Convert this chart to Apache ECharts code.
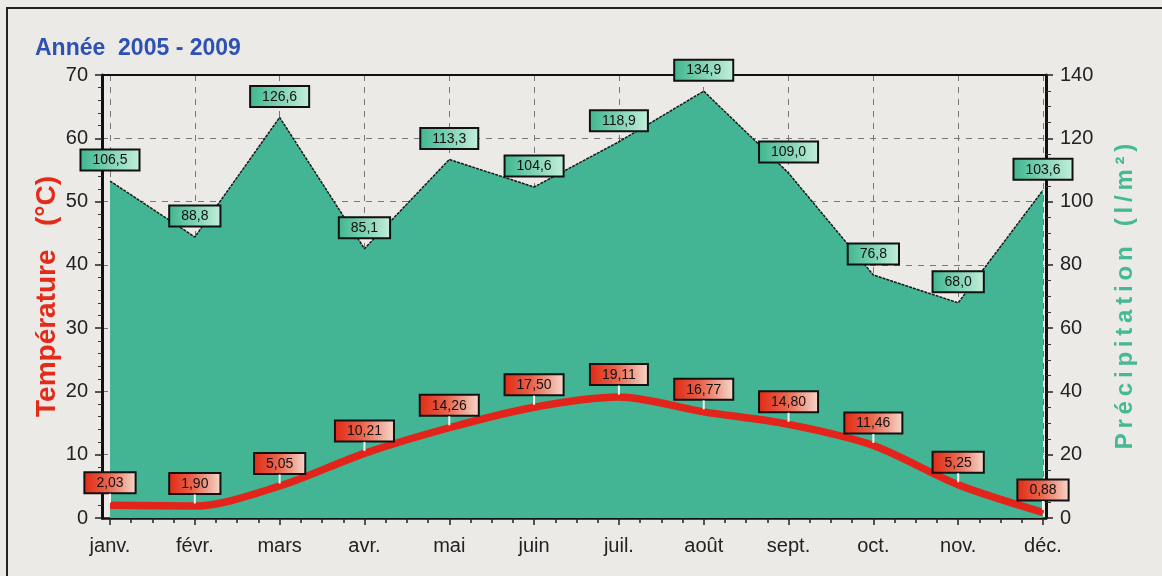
<!DOCTYPE html>
<html>
<head>
<meta charset="utf-8">
<script src="https://cdn.jsdelivr.net/npm/echarts@6/dist/echarts.min.js"></script>
<style>
html,body{margin:0;padding:0;background:#ebeae6;}
#c{width:1162px;height:576px;}
</style>
</head>
<body>
<div id="c"></div>
<script>
const months = ['janv.','févr.','mars','avr.','mai','juin','juil.','août','sept.','oct.','nov.','déc.'];
const temperature = [2.03,1.90,5.05,10.21,14.26,17.50,19.11,16.77,14.80,11.46,5.25,0.88];
const precipitation = [106.5,88.8,126.6,85.1,113.3,104.6,118.9,134.9,109.0,76.8,68.0,103.6];
const tempTicks = [0,10,20,30,40,50,60,70];
const precTicks = [0,20,40,60,80,100,120,140];

const chart = echarts.init(document.getElementById('c'));
const FONT = 'Liberation Sans, Arial, sans-serif';
const fmt = (v, d) => v.toFixed(d).replace('.', ',');
const spaced = s => s.split('').join('\u2009');

const tempBoxBg = new echarts.graphic.LinearGradient(0,0,1,0,[{offset:0,color:'#e02a14'},{offset:0.45,color:'#e9624a'},{offset:1,color:'#f6dacd'}]);
const precBoxBg = new echarts.graphic.LinearGradient(0,0,1,0,[{offset:0,color:'#3db68e'},{offset:1,color:'#c4efdb'}]);

const tickStyle = {color:'#222', width:1.5};

chart.setOption({
  backgroundColor: '#ebeae6',
  animation: false,
  title: {
    text: 'Année  2005 - 2009', left: 30, top: 32,
    textStyle: {color:'#2d52b4', fontSize:23, fontWeight:'bold', fontFamily: FONT}
  },
  grid: [
    {left: 110, right: 119, top: 75, bottom: 58},
    {left: 102, right: 116, top: 75, bottom: 58}
  ],
  xAxis: [{
    type: 'category', data: months, boundaryGap: false, gridIndex: 0,
    axisLine: {show: false},
    axisTick: {show: true, alignWithLabel: true, length: 7, lineStyle: tickStyle},
    axisLabel: {color:'#222', fontSize:20, margin:18, fontFamily: FONT},
    splitLine: {show: true, lineStyle:{color:'#777', type:[6,6], width:1}}
  },{
    type: 'value', min: 0, max: 11, interval: 1, gridIndex: 0, position: 'bottom',
    axisLine: {show:false}, axisLabel:{show:false}, axisTick:{show:false},
    minorTick: {show:true, splitNumber:4, length:5, lineStyle: tickStyle},
    splitLine: {show:false}
  },{
    type: 'value', min: 0, max: 1, gridIndex: 1, position: 'bottom',
    axisLine: {show:true, onZero:false, lineStyle:{color:'#111', width:2.5}},
    axisLabel:{show:false}, axisTick:{show:false}, splitLine:{show:false}
  },{
    type: 'value', min: 0, max: 1, gridIndex: 1, position: 'top',
    axisLine: {show:true, onZero:false, lineStyle:{color:'#111', width:2}},
    axisLabel:{show:false}, axisTick:{show:false}, splitLine:{show:false}
  }],
  yAxis: [{
    type: 'value', min: 0, max: 70, gridIndex: 0, show: false
  },{
    type: 'value', min: 0, max: 140, gridIndex: 0, show: false
  },{
    type: 'value', min: 0, max: 70, interval: 10, gridIndex: 1, position: 'left',
    name: 'Température   (°C)', nameLocation: 'middle', nameGap: 41, nameMoveOverlap: false,
    nameTextStyle: {color:'#e42a18', fontSize:28, fontWeight:'bold', fontFamily: FONT},
    axisLine: {show:true, onZero:false, lineStyle:{color:'#111', width:3}},
    axisTick: {show:true, length:7, lineStyle: tickStyle},
    minorTick: {show:true, splitNumber:5, length:4, lineStyle:{color:'#333'}},
    axisLabel: {color:'#222', fontSize:20, margin:14, fontFamily: FONT,
      formatter: v => tempTicks.includes(v) ? String(v) : ''},
    splitLine: {show:true, lineStyle:{color:'#777', type:[6,6], width:1}}
  },{
    type: 'value', min: 0, max: 140, interval: 20, gridIndex: 1, position: 'right',
    name: spaced('Précipitation') + '   ' + spaced('(l/m²)'), nameLocation: 'middle', nameGap: 67,
    nameTextStyle: {color:'#45b894', fontSize:24, fontWeight:'bold', fontFamily: FONT},
    axisLine: {show:true, onZero:false, lineStyle:{color:'#111', width:3}},
    axisTick: {show:true, length:7, lineStyle: tickStyle},
    minorTick: {show:true, splitNumber:4, length:5, lineStyle:{color:'#333'}},
    axisLabel: {color:'#222', fontSize:20, margin:14, fontFamily: FONT,
      formatter: v => precTicks.includes(v) ? String(v) : ''},
    splitLine: {show:false}
  }],
  series: [{
    name: 'Précipitation', type: 'line', xAxisIndex: 0, yAxisIndex: 1, data: precipitation,
    symbol: 'circle', symbolSize: 1, showSymbol: true, z: 2,
    itemStyle: {color: 'rgba(0,0,0,0)'},
    lineStyle: {color:'#1a1a1a', width:1.5, type:[3,1]},
    areaStyle: {color:'#43b594', opacity:1},
    label: {
      show: true, position: 'top', distance: 11,
      formatter: p => fmt(p.value, 1),
      color:'#111', fontSize:14, fontFamily: FONT,
      backgroundColor: precBoxBg, borderColor:'#111', borderWidth:2,
      padding:[3,11,2,11]
    }
  },{
    name: 'Température', type: 'line', xAxisIndex: 0, yAxisIndex: 0, data: temperature,
    symbol: 'circle', symbolSize: 1, showSymbol: true, smooth: 0.3, z: 4,
    itemStyle: {color: 'rgba(0,0,0,0)'},
    lineStyle: {color:'#e3241a', width:7.5},
    label: {
      show: true, position: 'top', distance: 2,
      formatter: p => '{b|' + fmt(p.value, 2) + '}\n{s|}',
      lineHeight: 10,
      rich: {
        b: {color:'#111', fontSize:14, fontFamily: FONT, lineHeight: 22,
            backgroundColor: tempBoxBg, borderColor:'#111', borderWidth:2,
            padding:[3,11,2,11], align:'center'},
        s: {width:2, height:9, lineHeight: 9, backgroundColor:'#f4f4f4', align:'center'}
      }
    }
  }],
  graphic: [
    {type:'rect', shape:{x:7, y:8, width:1200, height:600}, style:{fill:null, stroke:'#222', lineWidth:2}, z:-1}
  ]
});
</script>
</body>
</html>
